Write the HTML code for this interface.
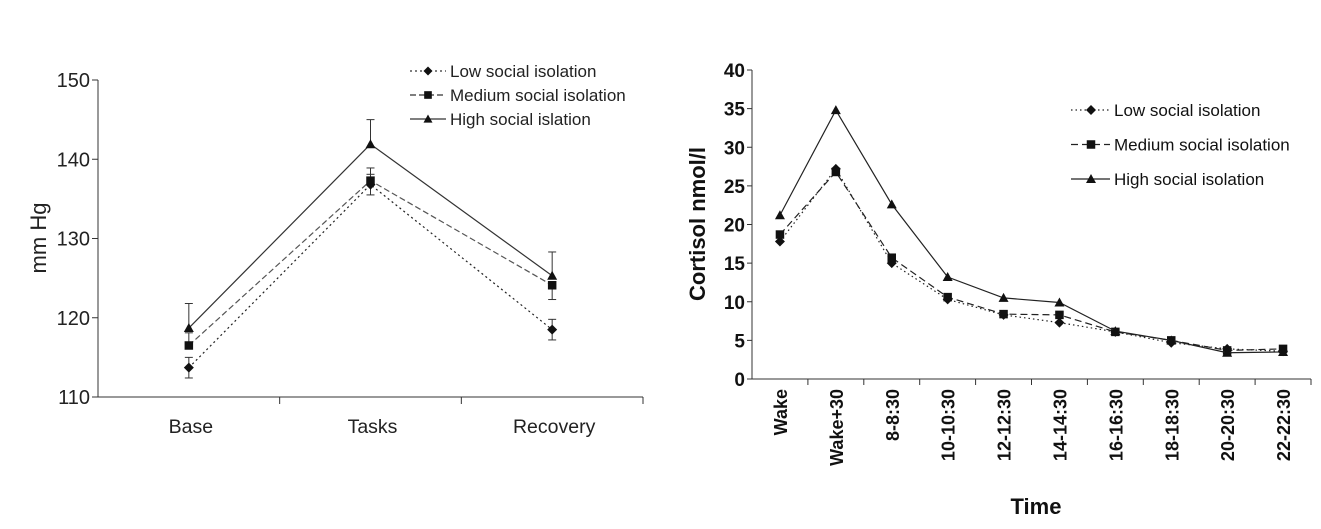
<!DOCTYPE html>
<html><head><meta charset="utf-8"><style>
body{margin:0;background:#fff;}
svg{display:block;font-family:"Liberation Sans",Arial,sans-serif;}
</style></head><body>
<svg id="c" width="1321" height="529" viewBox="0 0 1321 529" xmlns="http://www.w3.org/2000/svg">
<g id="left"></g>
<g id="right"></g>
</svg>
<script>
const bpCategories=["Base","Tasks","Recovery"];
const bpLow=[113.7,136.8,118.5];
const bpMed=[116.5,137.3,124.1];
const bpHigh=[118.7,141.9,125.3];
const bpLowErr=[1.3,1.3,1.3];
const bpMedErr=[1.6,1.6,1.8];
const bpHighErr=[3.1,3.1,3.0];
const bpTicks=[110,120,130,140,150];

const cortCategories=["Wake","Wake+30","8-8:30","10-10:30","12-12:30","14-14:30","16-16:30","18-18:30","20-20:30","22-22:30"];
const cortLow=[17.8,27.2,15.0,10.3,8.3,7.3,6.1,4.7,3.9,3.6];
const cortMed=[18.7,26.8,15.7,10.6,8.4,8.3,6.1,5.0,3.7,3.9];
const cortHigh=[21.2,34.8,22.6,13.2,10.5,9.9,6.2,5.0,3.4,3.5];
const cortTicks=[0,5,10,15,20,25,30,35,40];

const NS="http://www.w3.org/2000/svg";
function mk(parent,tag,attrs,text){const e=document.createElementNS(NS,tag);for(const k in attrs)e.setAttribute(k,attrs[k]);if(text!==undefined)e.textContent=text;parent.appendChild(e);return e;}
function marker(g,type,x,y,s){
  let e;
  if(type==="diamond") e=mk(g,"polygon",{points:`${x},${y-s} ${x+s},${y} ${x},${y+s} ${x-s},${y}`,fill:"#111"});
  else if(type==="square") e=mk(g,"rect",{x:x-s*0.85,y:y-s*0.85,width:s*1.7,height:s*1.7,fill:"#111"});
  else e=mk(g,"polygon",{points:`${x},${y-s} ${x+s},${y+s*0.8} ${x-s},${y+s*0.8}`,fill:"#111"});
  return e;
}

// LEFT
(function(){
  const g=document.getElementById("left");
  const x0=98,x1=643,yTop=80,yBot=397,vmin=110,vmax=150;
  const ys=v=>yBot-(v-vmin)/(vmax-vmin)*(yBot-yTop);
  const step=(x1-x0)/bpCategories.length;
  const xs=i=>x0+step*(i+0.5);
  let ax=mk(g,"line",{x1:x0,y1:yTop,x2:x0,y2:yBot,stroke:"#333","stroke-width":1});
  
  
  let bx=mk(g,"line",{x1:x0-6,y1:yBot,x2:x1,y2:yBot,stroke:"#333","stroke-width":1});
  
  
  bpTicks.forEach(t=>{
    mk(g,"line",{x1:x0-6,y1:ys(t),x2:x0,y2:ys(t),stroke:"#333"});
    const tl=mk(g,"text",{x:x0-8,y:ys(t)+7,"text-anchor":"end","font-size":20,fill:"#222"},t);
    
    
  });
  for(let i=1;i<=bpCategories.length;i++) mk(g,"line",{x1:x0+step*i,y1:yBot,x2:x0+step*i,y2:yBot+7,stroke:"#333"});
  bpCategories.forEach((c,i)=>{
    const t=mk(g,"text",{x:xs(i)+2,y:433,"text-anchor":"middle","font-size":19.5,fill:"#222"},c);
    
    
  });
  const yt=mk(g,"text",{x:0,y:0,transform:"translate(46,238) rotate(-90)","text-anchor":"middle","font-size":22,fill:"#222"},"mm Hg");
  
  
  const series=[
    {name:"low",vals:bpLow,err:bpLowErr,dash:"2,3",color:"#222",m:"diamond"},
    {name:"medium",vals:bpMed,err:bpMedErr,dash:"6,3",color:"#555",m:"square"},
    {name:"high",vals:bpHigh,err:bpHighErr,dash:"",color:"#333",m:"triangle"}];
  series.forEach(s=>{
    const sg=mk(g,"g",{});
    
    
    mk(sg,"polyline",{points:s.vals.map((v,i)=>xs(i)+","+ys(v)).join(" "),fill:"none",stroke:s.color,"stroke-width":1.2,"stroke-dasharray":s.dash});
    s.vals.forEach((v,i)=>{
      const dir=(s.name==="low")?-1:(s.name==="medium"&&i===2?-1:1);
      const ye=ys(v+dir*s.err[i]);
      mk(sg,"line",{x1:xs(i),y1:ys(v),x2:xs(i),y2:ye,stroke:"#333"});
      mk(sg,"line",{x1:xs(i)-4,y1:ye,x2:xs(i)+4,y2:ye,stroke:"#333"});
      if(s.name==="low"){const yu=ys(v+s.err[i]);mk(sg,"line",{x1:xs(i),y1:ys(v),x2:xs(i),y2:yu,stroke:"#333"});mk(sg,"line",{x1:xs(i)-4,y1:yu,x2:xs(i)+4,y2:yu,stroke:"#333"});}
      marker(sg,s.m,xs(i),ys(v),5);
    });
  });
  const leg=[["Low social isolation","2,3","diamond"],["Medium social isolation","6,3","square"],["High social islation","","triangle"]];
  leg.forEach((l,i)=>{
    const y=71+i*24;
    const lg=mk(g,"g",{});
    
    
    mk(lg,"line",{x1:410,y1:y,x2:446,y2:y,stroke:"#333","stroke-width":1.2,"stroke-dasharray":l[1]});
    marker(lg,l[2],428,y,4.5);
    mk(lg,"text",{x:450,y:y+6,"font-size":17,fill:"#222"},l[0]);
  });
})();

// RIGHT
(function(){
  const g=document.getElementById("right");
  const x0=752,x1=1311,yTop=70,yBot=379,vmin=0,vmax=40;
  const ys=v=>yBot-(v-vmin)/(vmax-vmin)*(yBot-yTop);
  const step=(x1-x0)/cortCategories.length;
  const xs=i=>x0+step*(i+0.5);
  let ax=mk(g,"line",{x1:x0,y1:yTop,x2:x0,y2:yBot,stroke:"#333"});
  
  
  let bx=mk(g,"line",{x1:x0-5,y1:yBot,x2:x1,y2:yBot,stroke:"#333"});
  
  
  cortTicks.forEach(t=>{
    mk(g,"line",{x1:x0-5,y1:ys(t),x2:x0,y2:ys(t),stroke:"#333"});
    const tl=mk(g,"text",{x:x0-7,y:ys(t)+7,"text-anchor":"end","font-size":19,"font-weight":"bold",fill:"#111"},t);
    
    
  });
  for(let i=1;i<=cortCategories.length;i++) mk(g,"line",{x1:x0+step*i,y1:yBot,x2:x0+step*i,y2:yBot+6,stroke:"#333"});
  cortCategories.forEach((c,i)=>{
    const t=mk(g,"text",{x:0,y:0,transform:`translate(${xs(i)+7},389) rotate(-90)`,"text-anchor":"end","font-size":18,"font-weight":"bold",fill:"#111"},c);
    
    
  });
  const xt=mk(g,"text",{x:1036,y:514,"text-anchor":"middle","font-size":22,"font-weight":"bold",fill:"#111"},"Time");
  
  
  const yt=mk(g,"text",{x:0,y:0,transform:"translate(705,224) rotate(-90)","text-anchor":"middle","font-size":22,"font-weight":"bold",fill:"#111"},"Cortisol nmol/l");
  
  
  const series=[
    {name:"low",vals:cortLow,dash:"1.5,3",m:"diamond"},
    {name:"medium",vals:cortMed,dash:"7,4",m:"square"},
    {name:"high",vals:cortHigh,dash:"",m:"triangle"}];
  series.forEach(s=>{
    const sg=mk(g,"g",{});
    
    
    mk(sg,"polyline",{points:s.vals.map((v,i)=>xs(i)+","+ys(v)).join(" "),fill:"none",stroke:"#222","stroke-width":1.2,"stroke-dasharray":s.dash});
    s.vals.forEach((v,i)=>marker(sg,s.m,xs(i),ys(v),5));
  });
  const leg=[["Low social isolation","1.5,3","diamond"],["Medium social isolation","7,4","square"],["High social isolation","","triangle"]];
  leg.forEach((l,i)=>{
    const y=110+i*34.5;
    const lg=mk(g,"g",{});
    
    
    mk(lg,"line",{x1:1071,y1:y,x2:1110,y2:y,stroke:"#222","stroke-width":1.2,"stroke-dasharray":l[1]});
    marker(lg,l[2],1091,y,5);
    mk(lg,"text",{x:1114,y:y+6,"font-size":17,fill:"#111"},l[0]);
  });
})();
</script>
</body></html>
